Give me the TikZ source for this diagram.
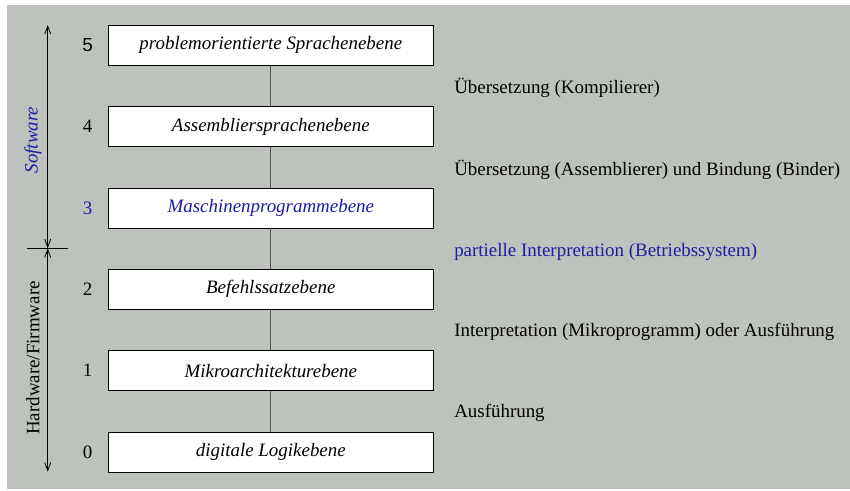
\documentclass[tikz,border=0pt]{standalone}
\usepackage{fontspec}
\setmainfont{Liberation Serif}
\newfontfamily\numfont{Liberation Sans}
\usetikzlibrary{arrows.meta}

\definecolor{bggray}{RGB}{190,194,188}
\definecolor{swblue}{RGB}{28,28,165}
\definecolor{linkgray}{RGB}{85,85,85}

\tikzset{
  lvlbox/.style={draw=black, fill=white, line width=0.6pt, minimum width=243.75pt, minimum height=30pt, inner sep=0pt, font=\itshape},
  lvlnum/.style={inner sep=0.75pt},
  lvllink/.style={draw=linkgray, line width=0.8pt},
  steptext/.style={anchor=west, inner sep=0.75pt},
  span/.style={line width=0.6pt, {Straight Barb[length=6pt,width=4.5pt]}-{Straight Barb[length=6pt,width=4.5pt]}}
}

\begin{document}
\begin{tikzpicture}[x=0.75pt,y=0.75pt,yscale=-1,xscale=1]
\fontsize{14.2}{17}\selectfont
\useasboundingbox (0,0) rectangle (850,491);

%Shape: Background
\fill [bggray] (7,5) rectangle (850,489);

%Shape: Level boxes
\node [lvlbox] (lvlfive) at (270.8,45.3) {problemorientierte Sprachenebene};
\node [lvlbox] (lvlfour) at (270.8,126.7) {Assembliersprachenebene};
\node [lvlbox, text=swblue] (lvlthree) at (270.8,208) {Maschinenprogrammebene};
\node [lvlbox] (lvltwo) at (270.8,289.2) {Befehlssatzebene};
\node [lvlbox] (lvlone) at (270.8,370.7) {Mikroarchitekturebene};
\node [lvlbox] (lvlzero) at (270.8,452) {digitale Logikebene};

%Straight Lines
\draw [lvllink] (lvlfive) -- (lvlfour);
\draw [lvllink] (lvlfour) -- (lvlthree);
\draw [lvllink] (lvlthree) -- (lvltwo);
\draw [lvllink] (lvltwo) -- (lvlone);
\draw [lvllink] (lvlone) -- (lvlzero);

% Text Node
\node [lvlnum] (numfive) at (87.7,45.3) {\numfont 5};
% Text Node
\node [lvlnum] (numfour) at (87.7,126.7) {4};
% Text Node
\node [lvlnum, text=swblue] (numthree) at (87.7,208) {3};
% Text Node
\node [lvlnum] (numtwo) at (87.7,289.2) {2};
% Text Node
\node [lvlnum] (numone) at (87.7,370.7) {1};
% Text Node
\node [lvlnum] (numzero) at (87.7,452) {0};

%Shape: Left scale
\coordinate (swtop) at (47.7,25);
\coordinate (swhw) at (47.7,248.3);
\coordinate (hwbot) at (47.7,471.7);
\coordinate (tickl) at (27.3,248.3);
\coordinate (tickr) at (67.7,248.3);
\draw [span] (swtop) -- (swhw);
\draw [span] (swhw) -- (hwbot);
\draw [line width=0.6pt] (tickl) -- (tickr);

% Text Node
\node [rotate=90, text=swblue, font=\itshape, inner sep=0.75pt] (swlabel) at (33,140) {Software};
% Text Node
\node [rotate=90, inner sep=0.75pt] (hwlabel) at (33,358) {Hardware/Firmware};

% Text Node
\node [steptext] (stepfive) at (453,88.3) {Übersetzung (Kompilierer)};
% Text Node
\node [steptext] (stepfour) at (453,170) {Übersetzung (Assemblierer) und Bindung (Binder)};
% Text Node
\node [steptext, text=swblue] (stepthree) at (453,251.7) {partielle Interpretation (Betriebssystem)};
% Text Node
\node [steptext] (steptwo) at (453,331.7) {Interpretation (Mikroprogramm) oder Ausführung};
% Text Node
\node [steptext] (stepone) at (453,413.3) {Ausführung};

\end{tikzpicture}
\end{document}
